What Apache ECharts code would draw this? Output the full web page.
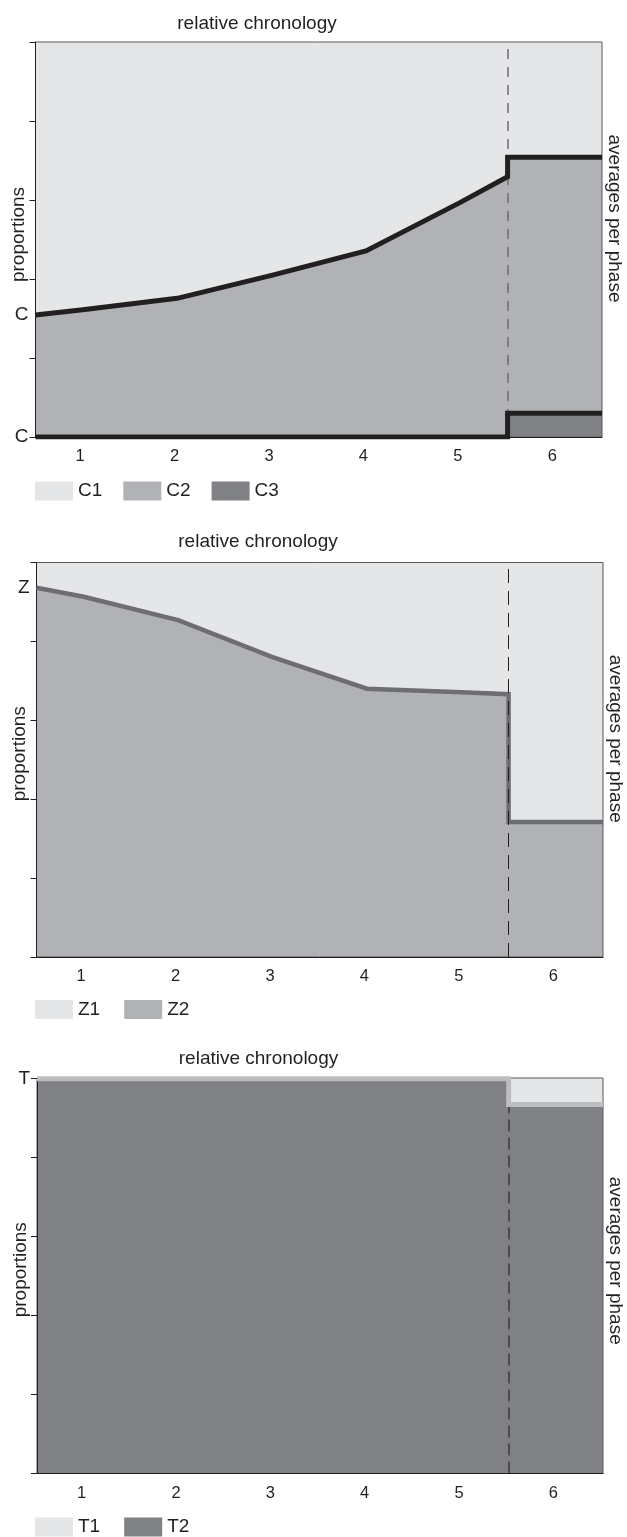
<!DOCTYPE html>
<html>
<head>
<meta charset="utf-8">
<script src="https://cdn.jsdelivr.net/npm/echarts@6/dist/echarts.min.js"></script>
<style>
  html, body { margin: 0; padding: 0; background: #ffffff; }
  #chart { width: 627px; height: 1537px; }
</style>
</head>
<body>
<div id="chart"></div>
<script>
// ---- data ----
const phaseLabels = ['1', '2', '3', '4', '5', '6'];
// positions on the relative chronology: left edge, phases 1-5, end of phase 5,
// then the phase-6 average block
const chronology = [0.5, 1, 2, 3, 4, 5, 5.5, 5.5, 6.5];
const phaseBoundary = 5.5;

const C1 = [0.691, 0.678, 0.649, 0.591, 0.529, 0.406, 0.341, 0.292, 0.292];
const C2 = [0.309, 0.322, 0.351, 0.409, 0.471, 0.594, 0.659, 0.648, 0.648];
const C3 = [0, 0, 0, 0, 0, 0, 0, 0.060, 0.060];

const Z1 = [0.064, 0.087, 0.146, 0.240, 0.320, 0.329, 0.334, 0.658, 0.658];
const Z2 = [0.936, 0.913, 0.854, 0.760, 0.680, 0.671, 0.666, 0.342, 0.342];

const T1 = [0.002, 0.002, 0.002, 0.002, 0.002, 0.002, 0.002, 0.067, 0.067];
const T2 = [0.998, 0.998, 0.998, 0.998, 0.998, 0.998, 0.998, 0.933, 0.933];

const yTicks = [0, 0.2, 0.4, 0.6, 0.8, 1];

// ---- styling ----
const FONT = 'Liberation Sans, Arial, Helvetica, sans-serif';
const INK = '#231f20';
const LIGHT = '#e5e6e8';
const MID = '#b1b2b6';
const DARK = '#808185';

// rows are [proportion, chronology] so that the stack runs on the proportion
function rows(arr) { return chronology.map((x, i) => [arr[i], x]); }
const ENCODE = { x: 1, y: 0 };

const panels = [
  {
    grid: { left: 35.5, top: 42, width: 566.5, height: 395 },
    titleX: 257, titleY: 23.5,
    legendTop: 481.5, legendGap: 21,
    rightPad: 42, leftPad: 10,
    areas: [ ['C3', C3, DARK], ['C2', C2, MID], ['C1', C1, LIGHT] ],
    lines: [ ['C3', C3, INK, 5, 'C'], ['C2', C2, INK, 5, 'C'] ],
    dash: { color: '#6d6e71', width: 1.5, type: [10, 8], z: 3 }
  },
  {
    grid: { left: 36.5, top: 562.5, width: 566.5, height: 394.5 },
    titleX: 258, titleY: 542,
    legendTop: 1000, legendGap: 24,
    rightPad: 42, leftPad: 12,
    areas: [ ['Z2', Z2, MID], ['Z1', Z1, LIGHT] ],
    lines: [ ['Z2', Z2, '#6d6e72', 4.5, 'Z'] ],
    dash: { color: INK, width: 1, type: [14, 8], z: 5 }
  },
  {
    grid: { left: 37, top: 1078, width: 566, height: 395.5 },
    titleX: 258.5, titleY: 1058.5,
    legendTop: 1517.5, legendGap: 24,
    rightPad: 30, leftPad: 12,
    areas: [ ['T2', T2, DARK], ['T1', T1, LIGHT] ],
    lines: [ ['T2', T2, '#bcbdc0', 5, 'T'] ],
    dash: { color: '#3a3a3c', width: 1.5, type: [12, 6], z: 3 }
  }
];

const option = {
  animation: false,
  backgroundColor: '#ffffff',
  textStyle: { fontFamily: FONT, color: INK },
  title: [], grid: [], xAxis: [], yAxis: [], legend: [], series: []
};

panels.forEach((p, i) => {
  option.title.push({
    text: 'relative chronology',
    left: p.titleX, top: p.titleY, padding: 0,
    textAlign: 'center', textVerticalAlign: 'middle',
    textStyle: { fontSize: 19, fontWeight: 'normal', color: INK, fontFamily: FONT }
  });
  option.grid.push(Object.assign({
    show: true, z: 3, backgroundColor: 'transparent',
    borderColor: '#58595b', borderWidth: 1, containLabel: false,
    outerBoundsMode: 'none'
  }, p.grid));

  // value axis for the data
  option.xAxis.push({
    type: 'value', gridIndex: i, min: 0.5, max: 6.5, show: false
  });
  // category axis for phase labels
  option.xAxis.push({
    type: 'category', gridIndex: i, data: phaseLabels, position: 'bottom', z: 3,
    boundaryGap: true,
    axisLine: { show: true, lineStyle: { color: INK, width: 1 } },
    axisTick: { show: false },
    axisLabel: { fontSize: 16.5, color: INK, margin: 11, padding: [0, 5, 0, 0], fontFamily: FONT },
    splitLine: { show: false }
  });

  option.yAxis.push({
    type: 'value', gridIndex: i, min: yTicks[0], max: yTicks[yTicks.length - 1],
    interval: yTicks[1] - yTicks[0], position: 'left', z: 3,
    name: 'proportions', nameLocation: 'middle', nameRotate: 90, nameGap: 7,
    nameTextStyle: { fontSize: 19, color: INK, fontFamily: FONT, padding: [0, 0, 0, p.leftPad] },
    axisLine: { show: true, lineStyle: { color: INK, width: 1 } },
    axisTick: { show: true, inside: false, length: 6, lineStyle: { color: INK, width: 1 } },
    axisLabel: { show: false },
    splitLine: { show: false }
  });
  option.yAxis.push({
    type: 'value', gridIndex: i, min: 0, max: 1, position: 'right',
    name: 'averages per phase', nameLocation: 'middle', nameRotate: -90, nameGap: 3,
    nameTextStyle: { fontSize: 19, color: INK, fontFamily: FONT, padding: [0, p.rightPad, 0, 0] },
    axisLine: { show: false }, axisTick: { show: false },
    axisLabel: { show: false }, splitLine: { show: false }
  });

  option.legend.push({
    data: p.areas.map(a => a[0]).sort(),
    left: 35, top: p.legendTop, padding: 0,
    orient: 'horizontal', icon: 'rect',
    itemWidth: 38, itemHeight: 19, itemGap: p.legendGap,
    selectedMode: false,
    itemStyle: { borderWidth: 0 },
    textStyle: { fontSize: 19, color: INK, fontFamily: FONT }
  });

  // stacked areas
  p.areas.forEach(([name, arr, color]) => {
    option.series.push({
      name: name, type: 'line', xAxisIndex: 2 * i, yAxisIndex: 2 * i,
      stack: 'area' + i, data: rows(arr), encode: ENCODE, color: color,
      symbol: 'none', smooth: false, z: 2,
      itemStyle: { color: color },
      lineStyle: { width: 0, color: color },
      areaStyle: { color: color, opacity: 1 }
    });
  });

  // dashed separator between phase 5 and the phase-6 average
  option.series.push({
    name: 'boundary' + i, type: 'line', xAxisIndex: 2 * i, yAxisIndex: 2 * i,
    data: [[phaseBoundary, 0]], symbol: 'none', lineStyle: { width: 0 }, z: p.dash.z,
    markLine: {
      silent: true, z: p.dash.z, symbol: ['none', 'none'], label: { show: false },
      lineStyle: { color: p.dash.color, width: p.dash.width, type: p.dash.type },
      data: [{ xAxis: phaseBoundary }]
    }
  });

  // boundary lines (stacked the same way as the areas)
  p.lines.forEach(([name, arr, color, width, tag]) => {
    const d = rows(arr).map((v, k) => k === 0
      ? { value: v, label: { show: true } }
      : { value: v });
    option.series.push({
      name: name + ' line', type: 'line', xAxisIndex: 2 * i, yAxisIndex: 2 * i,
      stack: 'line' + i, data: d, encode: ENCODE, z: 4,
      symbol: 'circle', symbolSize: 0, showSymbol: true,
      itemStyle: { color: color },
      lineStyle: { width: width, color: color, join: 'miter', cap: 'butt' },
      label: {
        show: false, position: 'left', distance: 7, formatter: tag,
        fontSize: 19, color: INK, fontFamily: FONT
      }
    });
  });
});

const chart = echarts.init(document.getElementById('chart'), null, { renderer: 'canvas' });
chart.setOption(option);
</script>
</body>
</html>
